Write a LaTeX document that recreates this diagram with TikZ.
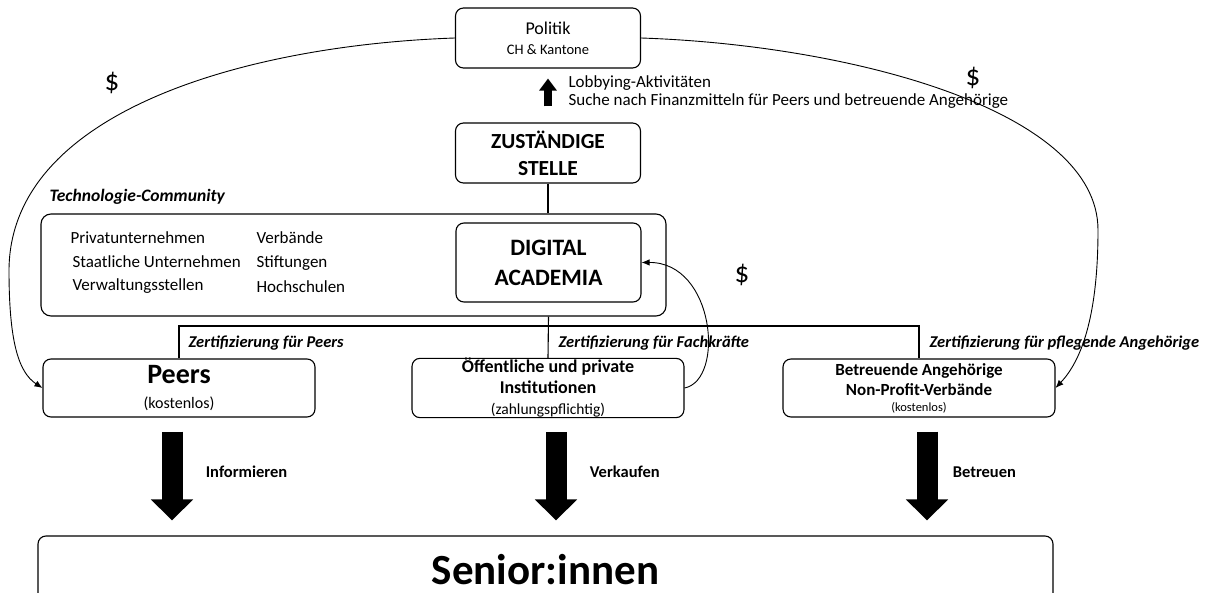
\documentclass[tikz,border=0pt]{standalone}
\usepackage{fontspec}
\setmainfont{Carlito}
\usepackage{tikz}
\usetikzlibrary{arrows.meta}

\begin{document}
\begin{tikzpicture}[
  x=1pt, y=-1pt, font=\fontsize{17}{20}\selectfont,
  box/.style={draw, line width=1.1pt, rounded corners=8pt, align=center, inner sep=0pt},
  flow/.style={line width=0.9pt, -{Latex[length=8pt,width=6.5pt]}},
  bigarrow/.style={line width=21pt, -{Triangle[length=21pt,width=41pt]}, shorten <=14pt, shorten >=15pt},
  certlabel/.style={anchor=west, font=\bfseries\itshape\fontsize{16.5}{18}\selectfont},
  actlabel/.style={anchor=west, font=\bfseries\fontsize{16.5}{18}\selectfont},
  money/.style={font=\fontsize{29}{30}\selectfont},
]
\useasboundingbox (0,0) rectangle (1216,593);

% ---------- top: politics and the office ----------
\node[box, minimum width=185pt, minimum height=60pt] (politik) at (548,38)
  {\fontsize{18}{17}\selectfont Politik\\ \fontsize{14.5}{17}\selectfont CH \& Kantone};
\node[box, minimum width=185pt, minimum height=60pt, font=\bfseries\fontsize{21.5}{27}\selectfont] (zust) at (548,153)
  {ZUSTÄNDIGE\\STELLE};
\draw[line width=8pt, -{Triangle[length=12pt,width=17pt]}, shorten <=16pt, shorten >=10pt] (zust.north) -- (politik.south);
\node[anchor=west, align=left, font=\fontsize{17}{18}\selectfont] (lobby) at (565,92)
  {Lobbying-Aktivitäten\\Suche nach Finanzmitteln für Peers und betreuende Angehörige};

% ---------- technology community ----------
\node[anchor=west, font=\bfseries\itshape\fontsize{17.5}{20}\selectfont] (techlabel) at (46,197) {Technologie-Community};
\node[box, rounded corners=10pt, minimum width=625pt, minimum height=102pt] (community) at (353.5,265) {};
\node[anchor=west, align=left, font=\fontsize{17}{23.5}\selectfont] (members1) at (67,263)
  {Privatunternehmen\\ \hspace*{2pt}Staatliche Unternehmen\\ \hspace*{2pt}Verwaltungsstellen};
\node[anchor=west, align=left, font=\fontsize{17}{24.5}\selectfont] (members2) at (253,262)
  {Verbände\\Stiftungen\\Hochschulen};
\node[box, minimum width=185pt, minimum height=79pt, font=\bfseries\fontsize{23.5}{30}\selectfont] (da) at (548.5,262.5)
  {DIGITAL\\ACADEMIA};
\draw[line width=1.1pt] (zust.south) -- (zust.south |- community.north);

% ---------- target groups ----------
\coordinate (bar) at (548,326);
\node[box, minimum width=272pt, minimum height=58pt] (peers) at (179,388)
  {\bfseries\fontsize{28}{27}\selectfont Peers\\[5pt] \fontsize{16}{20}\selectfont(kostenlos)};
\node[box, minimum width=272pt, minimum height=59pt, font=\bfseries\fontsize{18}{21}\selectfont] (oeff) at (548,388)
  {Öffentliche und private\\Institutionen\\ \mdseries\fontsize{15.5}{20}\selectfont(zahlungspflichtig)};
\node[box, minimum width=272pt, minimum height=58pt, font=\bfseries\fontsize{17}{20}\selectfont] (betr) at (919,388)
  {Betreuende Angehörige\\Non-Profit-Verbände\\[-4pt] \mdseries\fontsize{12.5}{15}\selectfont(kostenlos)};
\draw[line width=1.1pt] (da.south |- community.south) -- (oeff.north);
\draw[line width=1.1pt] (peers.north) |- (bar) -| (betr.north);
\node[certlabel] (certpeers) at (185,343) {Zertifizierung für Peers};
\node[certlabel] (certfach) at (555,343) {Zertifizierung für Fachkräfte};
\node[certlabel] (certpfl) at (926,343) {Zertifizierung für pflegende Angehörige};

% ---------- money flows ----------
\draw[flow] (politik.west) .. controls (250,45) and (10,110) .. (9,270)
  .. controls (9,340) and (18,372) .. (peers.west);
\draw[flow] (politik.east) .. controls (850,45) and (1098,110) .. (1098,230)
  .. controls (1098,320) and (1080,362) .. (betr.east);
\draw[flow] (oeff.east) .. controls (725,380) and (715,262) .. (da.east);
\node[money] (dollarl) at (112,83) {\$};
\node[money] (dollarr) at (973,78) {\$};
\node[money] (dollarm) at (742,275) {\$};

% ---------- seniors ----------
\node[box, minimum width=1015pt, minimum height=70pt, font=\bfseries\fontsize{43}{45}\selectfont] (senior) at (545.5,571)
  {\raisebox{4pt}{Senior:innen}};
\draw[bigarrow] ([xshift=-7pt]peers.south) -- ([xshift=-7pt]peers.south |- senior.north)
  node[actlabel, pos=0.46, xshift=20pt] {Informieren};
\draw[bigarrow] ([xshift=8pt]oeff.south) -- ([xshift=8pt]oeff.south |- senior.north)
  node[actlabel, pos=0.46, xshift=20pt] {Verkaufen};
\draw[bigarrow] ([xshift=8pt]betr.south) -- ([xshift=8pt]betr.south |- senior.north)
  node[actlabel, pos=0.46, xshift=12pt] {Betreuen};
\end{tikzpicture}
\end{document}
